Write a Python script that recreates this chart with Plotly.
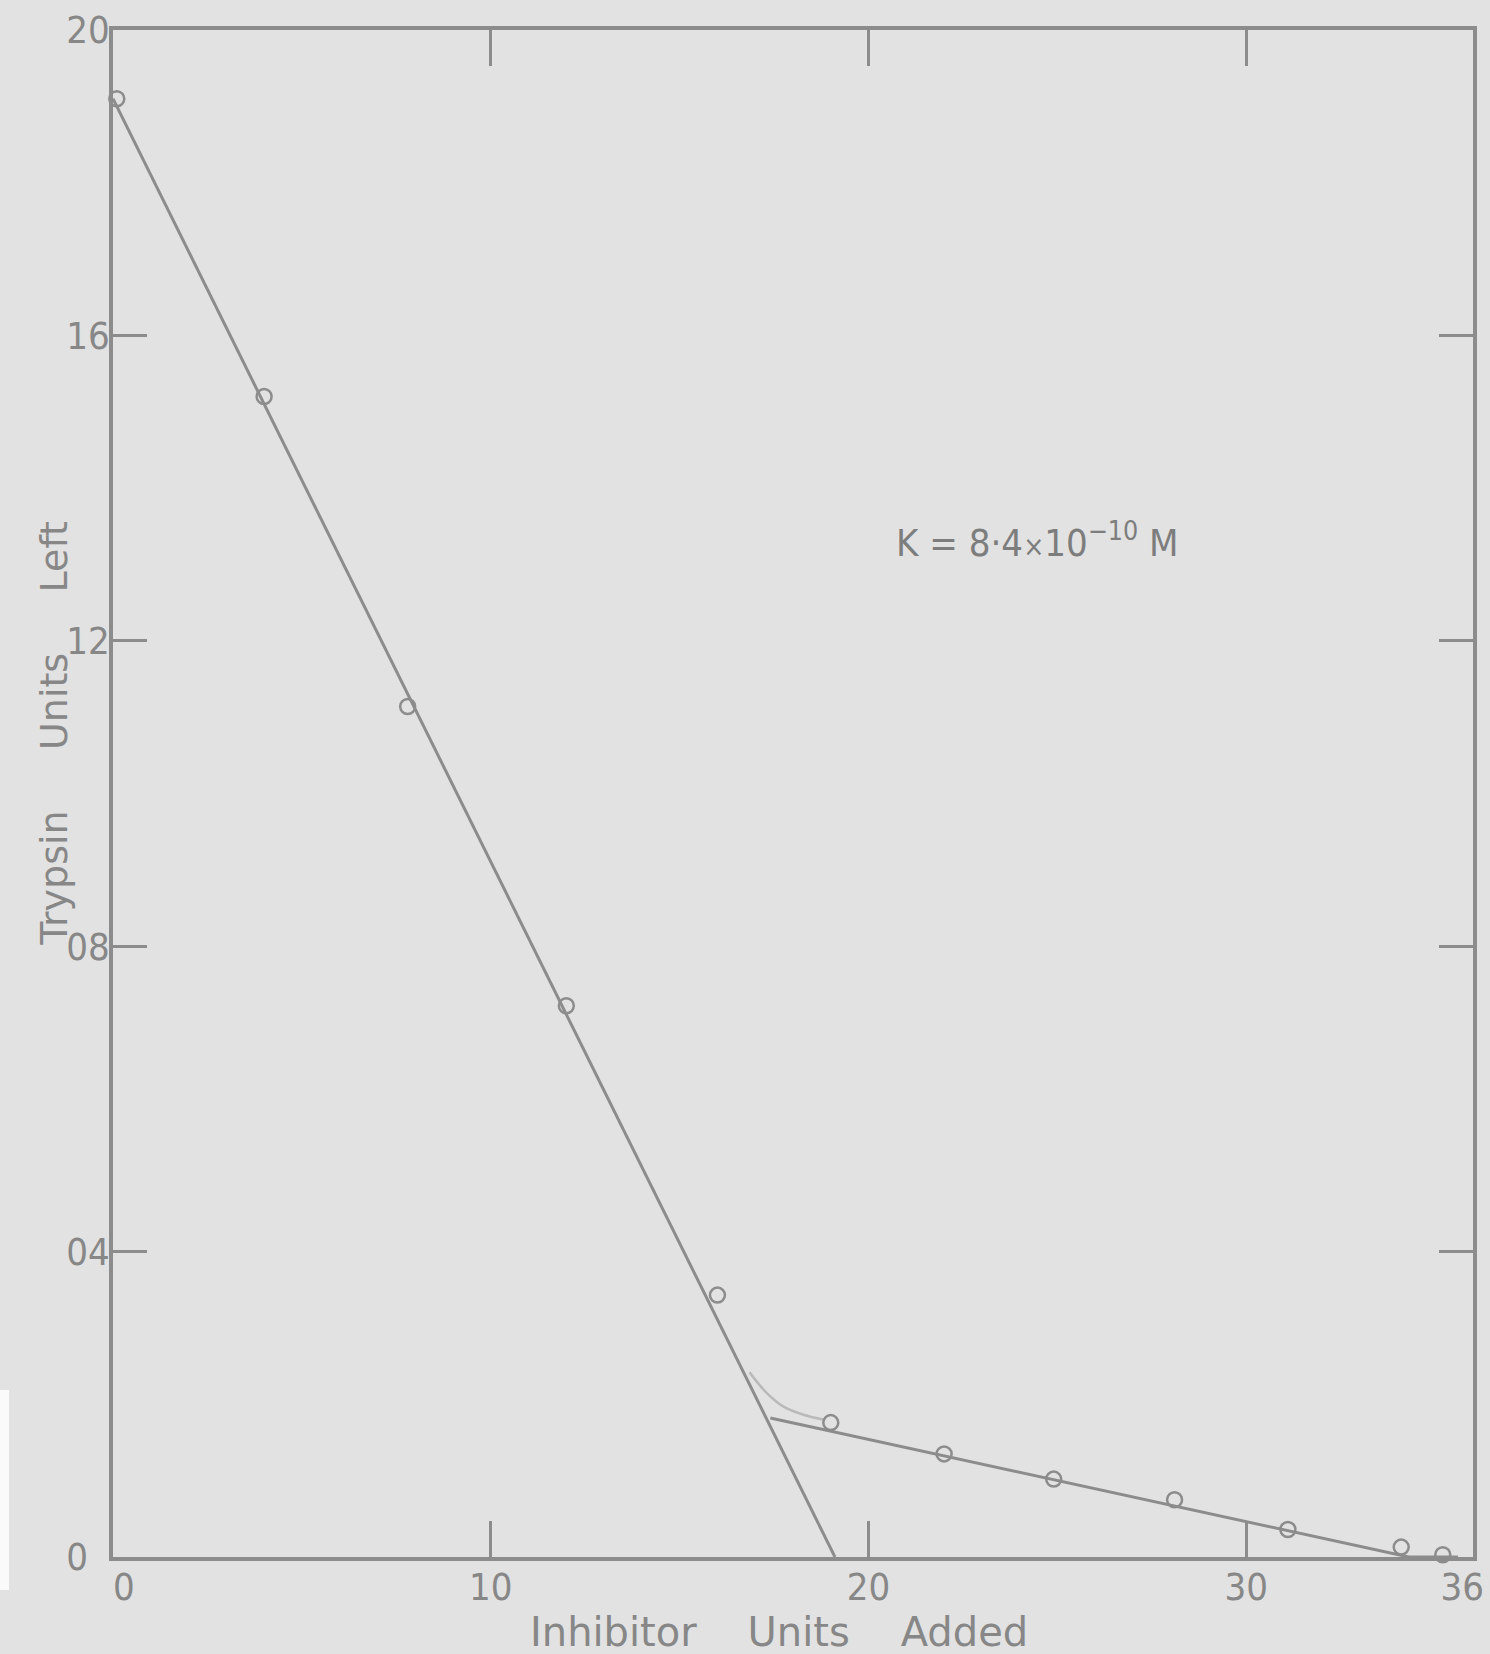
import plotly.graph_objects as go

# ---- data ----
inhibitor_units = [0.1, 4.0, 7.8, 12.0, 16.0, 19.0, 22.0, 24.9, 28.1, 31.1, 34.1, 35.2]
trypsin_left    = [1.91, 1.52, 1.114, 0.722, 0.343, 0.176, 0.135, 0.102, 0.075, 0.036, 0.013, 0.003]

# fitted straight lines drawn on the original
steep_x = [0.0, 19.11]
steep_y = [1.91, 0.0]
shallow_x = [17.4, 34.3, 35.6]
shallow_y = [0.182, 0.0, 0.0]
# faint hand-drawn curve near the break point
curve_x = [16.85, 17.3, 17.75, 18.3, 18.8]
curve_y = [0.242, 0.215, 0.197, 0.186, 0.180]

x_tickvals = [0, 10, 20, 30, 36]
x_ticktext = ["\u00a0\u00a00", "10", "20", "30", "36\u00a0\u00a0"]
y_tickvals = [0, 0.4, 0.8, 1.2, 1.6, 2.0]
y_ticktext = ["0\u00a0\u00a0", "04", "08", "12", "16", "20"]

NB = "\u00a0"
x_title = "Inhibitor" + NB * 4 + "Units" + NB * 4 + "Added"
y_title = NB * 10 + "Trypsin" + NB * 5 + "Units" + NB * 5 + "Left"

BG = "#e2e2e2"
INK = "#8c8c8c"
TXT = "#878787"
FONT = "Liberation Sans Narrow, DejaVu Sans Condensed, Liberation Sans, sans-serif"
TFONT = "DejaVu Sans, sans-serif"

fig = go.Figure()
fig.add_trace(go.Scatter(x=curve_x, y=curve_y, mode="lines", line=dict(color="#b9b9b9", width=2.5, shape="spline"),
                         hoverinfo="skip", showlegend=False))
fig.add_trace(go.Scatter(x=steep_x, y=steep_y, mode="lines", line=dict(color=INK, width=3), showlegend=False))
fig.add_trace(go.Scatter(x=shallow_x, y=shallow_y, mode="lines", line=dict(color=INK, width=3), showlegend=False))
fig.add_trace(go.Scatter(x=inhibitor_units, y=trypsin_left, mode="markers",
                         marker=dict(symbol="circle-open", size=15, color=INK, line=dict(width=2.5, color=INK)),
                         showlegend=False, cliponaxis=False))

fig.add_annotation(x=20.67, y=1.332, xref="x", yref="y", xanchor="left", yanchor="middle", showarrow=False,
                   text="K = 8·4<span style='font-size:28px'>×</span>10<sup>−10</sup>" + NB + "M",
                   font=dict(family=FONT, size=38, color="#7d7d7d"))

# axis titles placed as in the original
fig.add_annotation(x=(53 - 113) / 1360, y=0.5, xref="paper", yref="paper", xanchor="center", yanchor="middle",
                   showarrow=False, textangle=-90, text=y_title,
                   font=dict(family=TFONT, size=38, color=TXT))
fig.add_annotation(x=(779 - 113) / 1360, y=(1557.5 - 1632) / 1527, xref="paper", yref="paper",
                   xanchor="center", yanchor="middle", showarrow=False, text=x_title,
                   font=dict(family=TFONT, size=40, color=TXT))

# white strip at left edge of the scanned page
fig.add_shape(type="rect", xref="paper", yref="paper", x0=-113/1360, x1=-104/1360,
              y0=-(1590 - 1557) / 1527, y1=(1557 - 1390) / 1527,
              fillcolor="#fafafa", line=dict(width=0), layer="above")

fig.update_xaxes(range=[0, 36], tickvals=x_tickvals, ticktext=x_ticktext, ticks="inside", ticklen=36,
                 tickwidth=3, tickcolor=INK, showline=True, linewidth=3.5, linecolor=INK, mirror="ticks",
                 showgrid=False, zeroline=False, ticklabeloverflow="allow", ticklabelstandoff=-6,
                 tickfont=dict(family=FONT, size=38, color=TXT))
fig.update_yaxes(range=[0, 2.0], tickvals=y_tickvals, ticktext=y_ticktext, ticks="inside", ticklen=34,
                 tickwidth=3, tickcolor=INK, showline=True, linewidth=3.5, linecolor=INK, mirror="ticks",
                 showgrid=False, zeroline=False, ticklabeloverflow="allow", ticklabelstandoff=-8,
                 tickfont=dict(family=FONT, size=38, color=TXT))

fig.update_layout(width=1490, height=1654, margin=dict(l=113, r=17, t=30, b=97, autoexpand=False),
                  paper_bgcolor=BG, plot_bgcolor=BG, showlegend=False)

fig.write_html("out.html")
